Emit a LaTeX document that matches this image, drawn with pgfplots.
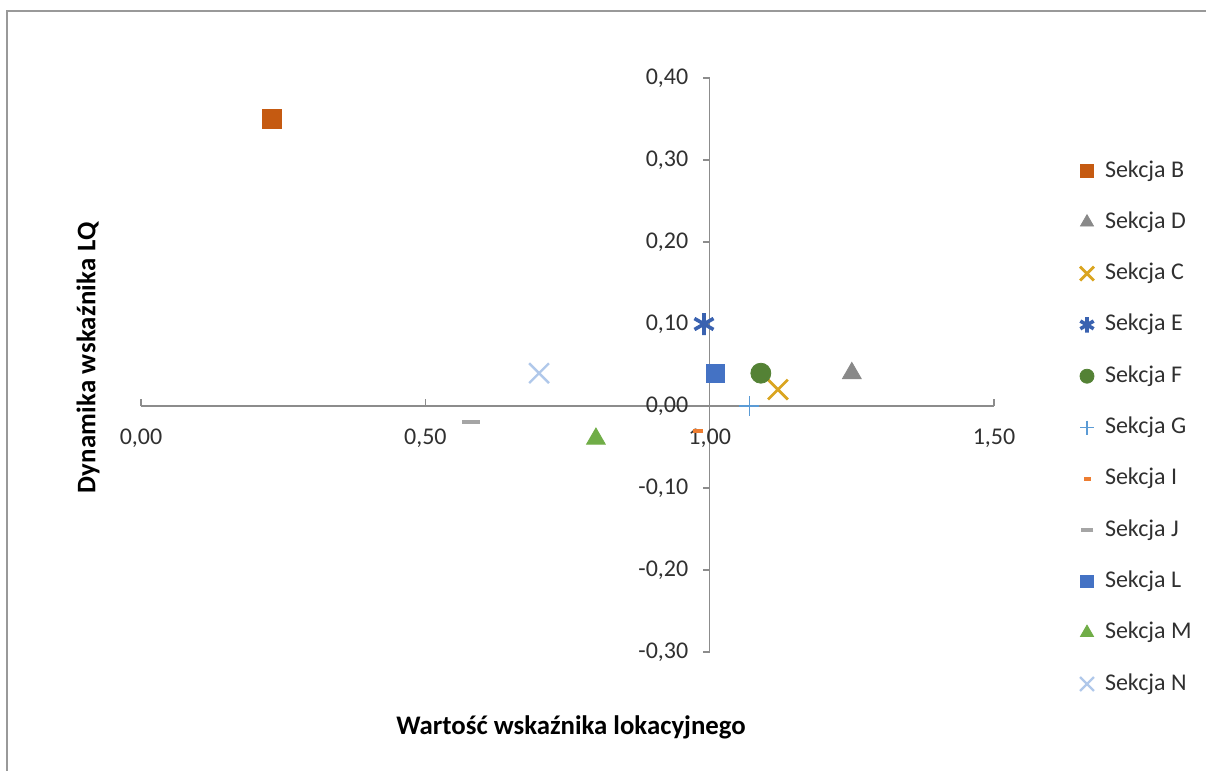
\documentclass[border=0pt]{standalone}
\usepackage{pgfplots}
\pgfplotsset{compat=1.18}
\usepackage{fontspec}
\setmainfont{Carlito}
\newfontfamily\ylabfont[LetterSpace=1]{Carlito}
\definecolor{cB}{HTML}{C55A11}
\definecolor{cD}{HTML}{898989}
\definecolor{cC}{HTML}{DAA520}
\definecolor{cE}{HTML}{3A62B0}
\definecolor{cF}{HTML}{548235}
\definecolor{cG}{HTML}{5B9BD5}
\definecolor{cI}{HTML}{ED7D31}
\definecolor{cJ}{HTML}{A5A5A5}
\definecolor{cL}{HTML}{4472C4}
\definecolor{cM}{HTML}{70AD47}
\definecolor{cN}{HTML}{B0C8EA}
\definecolor{axgray}{HTML}{8C8C8C}
\definecolor{labgray}{HTML}{303030}
\begin{document}
\begin{tikzpicture}[font=\fontsize{12pt}{14pt}\selectfont]
\useasboundingbox (-70.5pt,-59.5pt) rectangle (532.5pt,326pt);
\draw[line width=1pt, color=gray!80] (-67pt,-62pt) -- (-67pt,320.5pt) -- (535pt,320.5pt);
\begin{axis}[
  at={(0pt,0pt)}, anchor=south west,
  scale only axis, width=426.5pt, height=287pt,
  xmin=0, xmax=1.5, ymin=-0.3, ymax=0.4,
  axis lines=none, xtick=\empty, ytick=\empty, clip=false,
  legend cell align=left,
  legend style={draw=none, fill=none, inner sep=0pt, outer sep=0pt,
    at={(1.0973,0.8589)}, anchor=north west,
    font=\fontsize{12pt}{14pt}\selectfont,
    nodes={inner sep=0pt, text height=9pt, text depth=3pt, text=labgray},
    row sep=13.65pt, column sep=4pt},
  legend image code/.code={\path[draw=none,fill=none] (-5pt,-4pt) rectangle (5pt,4pt);
    \draw[mark repeat=1,mark phase=1,#1,/tikz/every mark/.append style={scale=0.7}] plot coordinates {(0pt,0pt)};},
]
% axes
\draw[axgray, line width=0.6pt] (axis cs:0,0) -- (axis cs:1.5,0);
\draw[axgray, line width=0.6pt] (axis cs:0,0) -- ++(0pt,3.5pt);
\draw[axgray, line width=0.6pt] (axis cs:0.5,0) -- ++(0pt,3.5pt);
\draw[axgray, line width=0.6pt] (axis cs:1,0) -- ++(0pt,3.5pt);
\draw[axgray, line width=0.6pt] (axis cs:1.5,0) -- ++(0pt,3.5pt);
\draw[axgray, line width=0.6pt] (axis cs:1,-0.3) -- (axis cs:1,0.4);
\draw[axgray, line width=0.6pt] (axis cs:1,0.4) -- ++(-3.5pt,0pt);
\draw[axgray, line width=0.6pt] (axis cs:1,0.3) -- ++(-3.5pt,0pt);
\draw[axgray, line width=0.6pt] (axis cs:1,0.2) -- ++(-3.5pt,0pt);
\draw[axgray, line width=0.6pt] (axis cs:1,0.1) -- ++(-3.5pt,0pt);
\draw[axgray, line width=0.6pt] (axis cs:1,0) -- ++(-3.5pt,0pt);
\draw[axgray, line width=0.6pt] (axis cs:1,-0.1) -- ++(-3.5pt,0pt);
\draw[axgray, line width=0.6pt] (axis cs:1,-0.2) -- ++(-3.5pt,0pt);
\draw[axgray, line width=0.6pt] (axis cs:1,-0.3) -- ++(-3.5pt,0pt);
% tick labels
\node[anchor=east, inner sep=0pt, text=labgray] at ([xshift=-10.5pt]axis cs:1,0.4) {0,40};
\node[anchor=east, inner sep=0pt, text=labgray] at ([xshift=-10.5pt]axis cs:1,0.3) {0,30};
\node[anchor=east, inner sep=0pt, text=labgray] at ([xshift=-10.5pt]axis cs:1,0.2) {0,20};
\node[anchor=east, inner sep=0pt, text=labgray] at ([xshift=-10.5pt]axis cs:1,0.1) {0,10};
\node[anchor=east, inner sep=0pt, text=labgray] at ([xshift=-10.5pt]axis cs:1,0) {0,00};
\node[anchor=east, inner sep=0pt, text=labgray] at ([xshift=-10.5pt]axis cs:1,-0.1) {-0,10};
\node[anchor=east, inner sep=0pt, text=labgray] at ([xshift=-10.5pt]axis cs:1,-0.2) {-0,20};
\node[anchor=east, inner sep=0pt, text=labgray] at ([xshift=-10.5pt]axis cs:1,-0.3) {-0,30};
\node[inner sep=0pt, text=labgray] at ([yshift=-16pt]axis cs:0,0) {0,00};
\node[inner sep=0pt, text=labgray] at ([yshift=-16pt]axis cs:0.5,0) {0,50};
\node[inner sep=0pt, text=labgray] at ([yshift=-16pt]axis cs:1,0) {1,00};
\node[inner sep=0pt, text=labgray] at ([yshift=-16pt]axis cs:1.5,0) {1,50};
% data
\addplot[only marks, mark=square*, mark size=4.6pt, color=cB] coordinates {(0.23,0.35)};
\addlegendentry{Sekcja B}
\addplot[only marks, mark=triangle*, mark size=5.4pt, color=cD] coordinates {(1.25,0.04)};
\addlegendentry{Sekcja D}
\addplot[only marks, mark=x, mark size=7pt, line width=1.4pt, color=cC] coordinates {(1.12,0.02)};
\addlegendentry{Sekcja C}
\addplot[only marks, mark=asterisk, mark size=5.5pt, line width=1.8pt, color=cE] coordinates {(0.99,0.10)};
\addlegendentry{Sekcja E}
\addplot[only marks, mark=*, mark size=5pt, color=cF] coordinates {(1.09,0.04)};
\addlegendentry{Sekcja F}
\addplot[only marks, mark=+, mark size=5pt, line width=0.6pt, color=cG] coordinates {(1.07,0.00)};
\addlegendentry{Sekcja G}
\addplot[only marks, mark=-, mark size=2.5pt, line width=2pt, color=cI] coordinates {(0.98,-0.03)};
\addlegendentry{Sekcja I}
\addplot[only marks, mark=-, mark size=4.5pt, line width=2pt, color=cJ] coordinates {(0.58,-0.02)};
\addlegendentry{Sekcja J}
\addplot[only marks, mark=square*, mark size=4.6pt, color=cL] coordinates {(1.01,0.04)};
\addlegendentry{Sekcja L}
\addplot[only marks, mark=triangle*, mark size=5.4pt, color=cM] coordinates {(0.80,-0.04)};
\addlegendentry{Sekcja M}
\addplot[only marks, mark=x, mark size=7pt, line width=1.2pt, color=cN] coordinates {(0.70,0.04)};
\addlegendentry{Sekcja N}
\end{axis}
\node[rotate=90, font=\fontsize{13.4pt}{15pt}\selectfont\ylabfont\bfseries] at (-26.5pt,147pt) {Dynamika wskaźnika LQ};
\node[font=\fontsize{13.4pt}{15pt}\selectfont\bfseries] at (215pt,-37.5pt) {Wartość wskaźnika lokacyjnego};
\end{tikzpicture}
\end{document}
